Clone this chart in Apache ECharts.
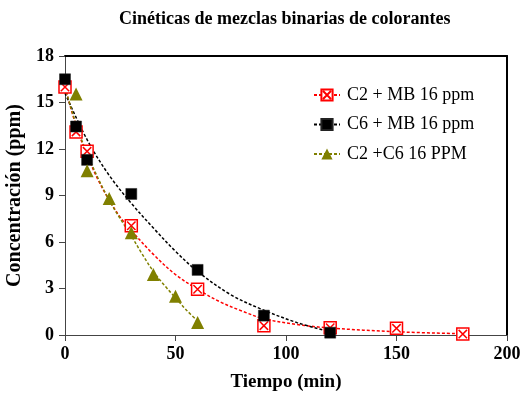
<!DOCTYPE html>
<html>
<head>
<meta charset="utf-8">
<script src="https://cdn.jsdelivr.net/npm/echarts@6/dist/echarts.min.js"></script>
<style>
  html, body { margin: 0; padding: 0; background: #fff; }
  #chart { width: 521px; height: 396px; }
</style>
</head>
<body>
<div id="chart"></div>
<script>
// Measured concentrations (ppm) over time (min)
const c2mbTime = [0, 5, 10, 30, 60, 90, 120, 150, 180];
const c2mbConc = [16.0, 13.1, 11.85, 7.05, 2.95, 0.6, 0.47, 0.43, 0.06];

const c6mbTime = [0, 5, 10, 30, 60, 90, 120];
const c6mbConc = [16.5, 13.45, 11.3, 9.1, 4.2, 1.25, 0.15];

const c2c6Time = [5, 10, 20, 30, 40, 50, 60];
const c2c6Conc = [15.55, 10.6, 8.8, 6.6, 3.9, 2.5, 0.8];

// Fitted decay curves
const c2mbFitTime = [0, 5, 10, 15, 20, 25, 30, 40, 50, 60, 70, 80, 90, 105, 120, 150, 180];
const c2mbFitConc = [16.0, 13.5, 11.6, 10.0, 8.7, 7.6, 6.75, 5.2, 3.9, 2.95, 2.15, 1.55, 1.05, 0.68, 0.45, 0.21, 0.08];

const c6mbFitTime = [0, 10, 20, 30, 40, 50, 60, 75, 90, 105, 120];
const c6mbFitConc = [15.6, 12.6, 10.3, 8.5, 6.9, 5.4, 4.1, 2.6, 1.6, 0.8, 0.2];

const c2c6FitTime = [0, 5, 10, 15, 20, 25, 30, 35, 40, 45, 50, 55, 60];
const c2c6FitConc = [16.0, 13.6, 11.7, 10.1, 8.7, 7.5, 6.4, 5.2, 4.1, 3.2, 2.4, 1.6, 0.9];

const seriesNames = ['C2 + MB 16 ppm', 'C6 + MB 16 ppm', 'C2 +C6 16 PPM'];

const xTicks = { min: 0, max: 200, interval: 50 };
const yTicks = { min: 0, max: 18, interval: 3 };

const pairs = (xs, ys) => xs.map((x, i) => [x, ys[i]]);

const serif = 'Liberation Serif';
const crossedSquare = 'path://M0,0L20,0L20,20L0,20Z M3,3L17,17 M17,3L3,17';

const red = '#ff0000';
const olive = '#808000';

const styles = [
  { symbol: crossedSquare, size: 12, item: { color: '#fff', borderColor: red, borderWidth: 1.5, opacity: 1 }, line: red },
  { symbol: 'rect', size: 11, item: { color: '#000', borderColor: '#222', borderWidth: 0.5, opacity: 1 }, line: '#000' },
  { symbol: 'triangle', size: 13, item: { color: olive, opacity: 1 }, line: olive }
];

const fits = [pairs(c2mbFitTime, c2mbFitConc), pairs(c6mbFitTime, c6mbFitConc), pairs(c2c6FitTime, c2c6FitConc)];
const points = [pairs(c2mbTime, c2mbConc), pairs(c6mbTime, c6mbConc), pairs(c2c6Time, c2c6Conc)];

const series = [];
fits.forEach((d, i) => {
  series.push({
    name: seriesNames[i],
    type: 'line',
    data: d,
    smooth: 0.35,
    symbol: styles[i].symbol,
    symbolSize: styles[i].size,
    showSymbol: false,
    itemStyle: styles[i].item,
    lineStyle: { color: styles[i].line, width: 1.5, type: [3, 2] },
    silent: true,
    z: 2
  });
});
points.forEach((d, i) => {
  series.push({
    name: seriesNames[i] + ' datos',
    type: 'scatter',
    data: d,
    symbol: styles[i].symbol,
    symbolSize: styles[i].size,
    itemStyle: styles[i].item,
    z: 3
  });
});

const labelStyle = { fontFamily: serif, fontWeight: 'bold', fontSize: 18, color: '#000' };

const chart = echarts.init(document.getElementById('chart'), null, { renderer: 'canvas' });
chart.setOption({
  animation: false,
  backgroundColor: '#fff',
  title: {
    text: 'Cinéticas de mezclas binarias de colorantes',
    left: 114,
    top: 5,
    textStyle: { fontFamily: serif, fontWeight: 'bold', fontSize: 18, color: '#000' }
  },
  legend: {
    data: seriesNames,
    orient: 'vertical',
    left: 308,
    top: 79,
    itemWidth: 26,
    itemHeight: 14,
    itemGap: 7.5,
    textStyle: { fontFamily: serif, fontSize: 18, color: '#000', lineHeight: 22, padding: [0, 0, 0, 2] }
  },
  grid: { left: 65, right: 14, top: 56, bottom: 61, containLabel: false, outerBoundsMode: 'none' },
  xAxis: [{
    type: 'value',
    min: xTicks.min, max: xTicks.max, interval: xTicks.interval,
    name: 'Tiempo (min)',
    nameLocation: 'middle',
    nameGap: 38,
    nameTextStyle: { fontFamily: serif, fontWeight: 'bold', fontSize: 19, color: '#000' },
    axisLine: { onZero: false, lineStyle: { color: '#444', width: 1 } },
    axisTick: { length: 6, lineStyle: { color: '#444' } },
    axisLabel: Object.assign({ margin: 10 }, labelStyle),
    splitLine: { show: false }
  }, {
    type: 'value', position: 'top',
    min: xTicks.min, max: xTicks.max,
    axisLine: { show: true, onZero: false, lineStyle: { color: '#000', width: 2 } },
    axisTick: { show: false }, axisLabel: { show: false }, splitLine: { show: false }
  }],
  yAxis: [{
    type: 'value',
    min: yTicks.min, max: yTicks.max, interval: yTicks.interval,
    name: 'Concentración (ppm)',
    nameLocation: 'middle',
    nameGap: 37,
    nameTextStyle: { fontFamily: serif, fontWeight: 'bold', fontSize: 20, color: '#000' },
    axisLine: { show: true, onZero: false, lineStyle: { color: '#444', width: 1 } },
    axisTick: { show: true, length: 6, lineStyle: { color: '#444' } },
    axisLabel: Object.assign({ margin: 11 }, labelStyle),
    splitLine: { show: false }
  }, {
    type: 'value', position: 'right',
    min: yTicks.min, max: yTicks.max,
    axisLine: { show: true, onZero: false, lineStyle: { color: '#000', width: 2 } },
    axisTick: { show: false }, axisLabel: { show: false }, splitLine: { show: false }
  }],
  series: series
});
</script>
</body>
</html>
